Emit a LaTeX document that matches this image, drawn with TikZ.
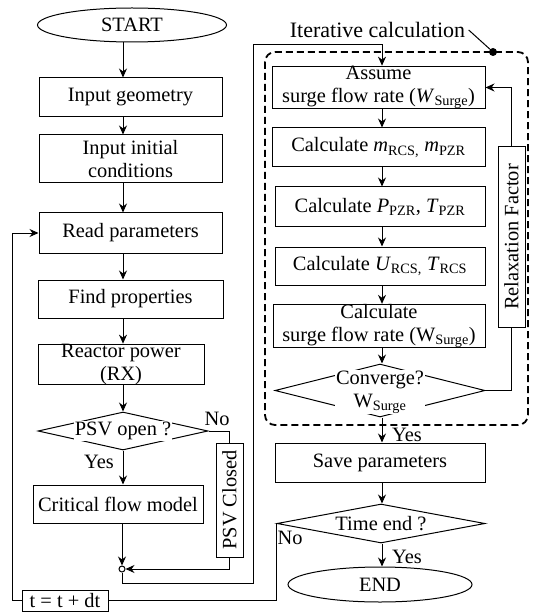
\documentclass[tikz,border=0pt]{standalone}
\usepackage{fontspec}
\setmainfont{Liberation Serif}
\usepackage{tikz}
\usetikzlibrary{arrows.meta,shapes.geometric}
\tikzset{
    >={Stealth[length=9pt,width=8pt]}, % Default arrow tip
    flow/.style={line width=1pt},
    block/.style={draw, flow, rectangle, inner sep=0pt, align=center},
    terminal/.style={draw, flow, ellipse, inner sep=0pt},
    decision/.style={draw, flow, diamond, inner sep=0pt},
    cover/.style={fill=white, inner sep=1pt, align=center},
    frame/.style={line width=1.8pt, dash pattern=on 7pt off 4pt, rounded corners=10pt}
}

\begin{document}
\begin{tikzpicture}[x=1pt, y=-1pt, font=\fontsize{20.4}{23}\selectfont]
    \useasboundingbox (0,0) rectangle (535,612);

    % arrow columns
    \coordinate (lx) at (123,0);
    \coordinate (rx) at (382,0);
    \coordinate (lloop) at (12,0);

    % left column
    \node [terminal, minimum width=189, minimum height=34] (start) at (132,25) {START};
    \node [block, minimum width=183, minimum height=39] (geom) at (130.5,97.5) {Input geometry};
    \node [block, minimum width=183, minimum height=48] (init) at (130.5,159) {Input initial\\conditions};
    \node [block, minimum width=183, minimum height=40] (read) at (130.5,233) {Read parameters};
    \node [block, minimum width=185, minimum height=38] (props) at (130.5,299) {Find properties};
    \node [block, minimum width=166, minimum height=37] (power) at (121,364.5) {Reactor power\\(RX)};
    \node [decision, minimum width=170, minimum height=38] (psv) at (123,431) {};
    \node [cover] (psvtext) at (psv) {PSV open ?};
    \node [block, minimum width=170, minimum height=38] (crit) at (118,504) {Critical flow model};
    \node [block, minimum width=27, minimum height=114] (closed) at (229.5,500) {\rotatebox{90}{PSV Closed}};
    \node [draw, flow, circle, fill=white, inner sep=0pt, minimum size=6pt] (join) at (122,569) {};
    \node [block, minimum width=86, minimum height=21] (tstep) at (65,600.5) {t = t + dt};

    \node (psvno) at (217,419) {No};
    \node (psvyes) at (99,462) {Yes};

    % iterative loop
    \node [font=\fontsize{22}{24}\selectfont] (itlab) at (377.5,30) {Iterative calculation};
    \draw [frame] (265,52) rectangle (528,425);
    \node [circle, fill=black, inner sep=0pt, minimum size=8pt] (dot) at (493,52) {};
    \draw [flow] (itlab.east) -- (dot);

    \node [block, minimum width=213, minimum height=39] (assume) at (378.5,87.5) {Assume\\surge flow rate (\textit{W}\textsubscript{Surge})};
    \node [block, minimum width=213, minimum height=39] (mass) at (378.5,147.5) {Calculate \textit{m}\textsubscript{RCS,} \textit{m}\textsubscript{PZR}};
    \node [block, minimum width=210, minimum height=39] (press) at (380,206.5) {Calculate \textit{P}\textsubscript{PZR}, \textit{T}\textsubscript{PZR}};
    \node [block, minimum width=210, minimum height=38] (energy) at (380,266) {Calculate \textit{U}\textsubscript{RCS,} \textit{T}\textsubscript{RCS}};
    \node [block, minimum width=212, minimum height=38] (surge) at (379,326) {Calculate\\surge flow rate (W\textsubscript{Surge})};
    \node [decision, minimum width=210, minimum height=53] (conv) at (380,390.5) {};
    \node [cover] (convtext) at (380,392) {Converge?\\W\textsubscript{Surge}};
    \node [block, minimum width=27, minimum height=180] (relax) at (511.5,237) {\rotatebox{90}{Relaxation Factor}};

    % right column
    \node [block, minimum width=210, minimum height=39] (save) at (380,462.5) {Save parameters};
    \node [decision, minimum width=208, minimum height=39] (tend) at (381,523.5) {};
    \node [cover] (tendtext) at (tend) {Time end ?};
    \node [terminal, minimum width=184, minimum height=35] (finish) at (380,584.5) {END};

    \node (convyes) at (407,435) {Yes};
    \node (tendyes) at (407,557) {Yes};
    \node (tendno) at (290,538) {No};

    % loop corners
    \coordinate (loopa) at (253,583);
    \coordinate (loopb) at (253,45);

    % left column arrows
    \draw [flow, ->] (start.south -| lx) -- (geom.north -| lx);
    \draw [flow, ->] (geom.south -| lx) -- (init.north -| lx);
    \draw [flow, ->] (init.south -| lx) -- (read.north -| lx);
    \draw [flow, ->] (read.south -| lx) -- (props.north -| lx);
    \draw [flow, ->] (props.south -| lx) -- (power.north -| lx);
    \draw [flow, ->] (power.south -| lx) -- (psv.north);
    \draw [flow, ->] (psv.south) -- (crit.north -| lx);
    \draw [flow, ->] (crit.south -| join) -- (join.north);
    \draw [flow] (psv.east) -- (psv.east -| closed) -- (closed.north);
    \draw [flow, ->] (closed.south) |- (join.east);
    \draw [flow, ->] (join.south) |- (loopa) -- (loopb) -| (assume.north -| rx);

    % iterative arrows
    \draw [flow, ->] (assume.south -| rx) -- (mass.north -| rx);
    \draw [flow, ->] (mass.south -| rx) -- (press.north -| rx);
    \draw [flow, ->] (press.south -| rx) -- (energy.north -| rx);
    \draw [flow, ->] (energy.south -| rx) -- (surge.north -| rx);
    \draw [flow, ->] (surge.south -| rx) -- (conv.north -| rx);
    \draw [flow] (conv.east) -- (conv.east -| relax) -- (relax.south);
    \draw [flow, ->] (relax.north) |- (assume.east);

    % right column arrows
    \draw [flow, ->] (conv.south -| rx) -- (save.north -| rx);
    \draw [flow, ->] (save.south -| rx) -- (tend.north -| rx);
    \draw [flow, ->] (tend.south -| rx) -- (finish.north -| rx);
    \draw [flow] (tend.west) -- (tend.west |- tstep) -- (tstep.east);
    \draw [flow, ->] (tstep.west) -| (lloop |- read.west) -- (read.west);
\end{tikzpicture}
\end{document}
